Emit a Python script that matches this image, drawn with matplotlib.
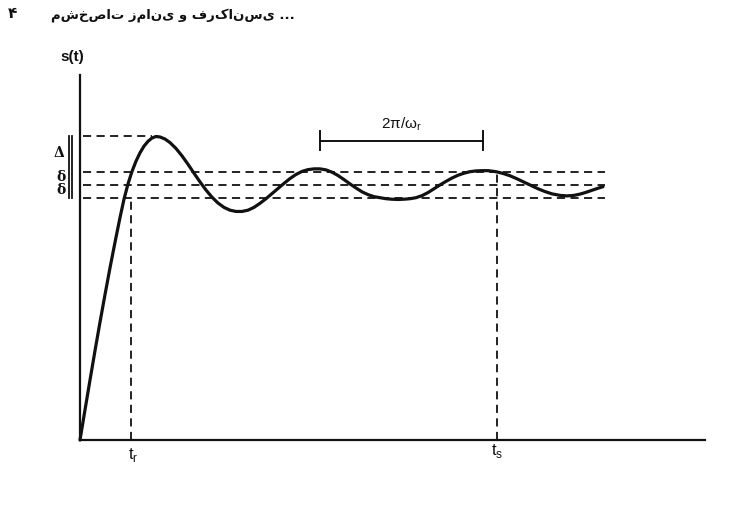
import matplotlib
matplotlib.use("Agg")
import matplotlib.pyplot as plt

plt.rcParams["font.family"] = ["Liberation Sans", "DejaVu Sans"]
plt.rcParams["mathtext.fontset"] = "custom"
plt.rcParams["mathtext.rm"] = "Liberation Sans"

# ---- data (t in arbitrary time units, s normalised to final value 1) ----
t = [0.00, 0.05, 0.10, 0.15, 0.20, 0.25, 0.30, 0.35, 0.40, 0.44, 0.48, 0.52, 0.56, 0.60,
     0.64, 0.68, 0.72, 0.76, 0.80, 0.85, 0.90, 0.96, 1.02, 1.08, 1.14, 1.20, 1.26, 1.32,
     1.38, 1.44, 1.50, 1.56, 1.62, 1.68, 1.74, 1.80, 1.86, 1.92, 1.98, 2.04, 2.10, 2.16,
     2.22, 2.28, 2.34, 2.40, 2.46, 2.52, 2.58, 2.64, 2.70, 2.76, 2.82, 2.88, 2.94, 3.00,
     3.06, 3.12, 3.18, 3.24, 3.30, 3.36, 3.42, 3.48, 3.54, 3.60, 3.66, 3.72, 3.78, 3.84,
     3.90, 3.96, 4.02, 4.08, 4.14, 4.17, 4.23, 4.30, 4.37, 4.44, 4.51, 4.58, 4.65, 4.72,
     4.80, 4.87, 4.94, 5.00, 5.06, 5.12, 5.18, 5.23]
s = [0.000, 0.118, 0.235, 0.350, 0.462, 0.570, 0.675, 0.775, 0.872, 0.944, 1.004, 1.053,
     1.093, 1.126, 1.152, 1.171, 1.184, 1.190, 1.188, 1.180, 1.166, 1.143, 1.114, 1.081,
     1.046, 1.012, 0.980, 0.952, 0.929, 0.912, 0.901, 0.896, 0.896, 0.901, 0.912, 0.928,
     0.946, 0.966, 0.986, 1.006, 1.025, 1.041, 1.053, 1.060, 1.063, 1.063, 1.059, 1.050,
     1.037, 1.021, 1.004, 0.988, 0.973, 0.962, 0.954, 0.950, 0.946, 0.944, 0.943, 0.944,
     0.946, 0.950, 0.958, 0.970, 0.985, 1.000, 1.014, 1.027, 1.038, 1.046, 1.052, 1.055,
     1.056, 1.056, 1.053, 1.051, 1.045, 1.036, 1.024, 1.011, 0.998, 0.985, 0.974, 0.965,
     0.959, 0.957, 0.959, 0.964, 0.971, 0.979, 0.987, 0.993]

final_value = 1.0
delta = 0.05          # settling band half-width
overshoot = 1.19      # Delta level (peak)
t_r = 0.51
t_s = 4.17
period_start = 2.40
period_end = 4.03

header = "مشخصات زمانی و فرکانسی ..."
page_no = "۴"

# ---- figure ----
fig = plt.figure(figsize=(7.36, 5.14), dpi=100)
ax = fig.add_axes([80 / 736, 1 - 440 / 514, 625 / 736, 365 / 514])
ax.set_xlim(0, 6.25)
ax.set_ylim(0, 1.431)
ax.axis("off")

ink = "#111111"
dash = dict(color=ink, lw=1.3, ls=(0, (4.5, 3.0)))

# axes
ax.plot([0, 0], [0, 1.431], color=ink, lw=1.6, clip_on=False)
ax.plot([0, 6.25], [0, 0], color=ink, lw=1.6, clip_on=False)

# level lines
ax.plot([0.03, 0.72], [overshoot, overshoot], **dash)
for lvl in (final_value + delta, final_value, final_value - delta):
    ax.plot([0.03, 5.25], [lvl, lvl], **dash)

# vertical dashed markers
ax.plot([t_r, t_r], [0, final_value - delta], **dash)
ax.plot([t_s, t_s], [0, final_value + delta], **dash)

# response curve
ax.plot(t, s, color=ink, lw=2.3, solid_capstyle="round", solid_joinstyle="round",
        clip_on=False)

# left bracket bars and labels
for xb in (-0.11, -0.08):
    ax.plot([xb, xb], [final_value - delta, overshoot], color=ink, lw=1.3, clip_on=False)
greek = dict(ha="center", va="center", fontsize=10, fontweight="bold", color=ink,
             clip_on=False, family=["DejaVu Serif"])
ax.text(-0.21, 1.125, "Δ", **greek)
ax.text(-0.19, 1.031, "δ", **greek)
ax.text(-0.19, 0.98, "δ", **greek)

# period bar
yb = 1.173
ax.plot([period_start, period_end], [yb, yb], color=ink, lw=1.4, clip_on=False)
for xe in (period_start, period_end):
    ax.plot([xe, xe], [yb - 0.035, yb + 0.04], color=ink, lw=1.4, clip_on=False)
ax.text((period_start + period_end) / 2, 1.238, "2π/ω$_\\mathregular{r}$", ha="center",
        va="center", fontsize=11, color=ink, clip_on=False)

# axis labels
ax.text(-0.08, 1.502, "s(t)", ha="center", va="center", fontsize=11, color=ink,
        fontweight="bold", clip_on=False)
ax.text(t_r + 0.02, -0.06, "t$_\\mathregular{r}$", ha="center", va="center", fontsize=12,
        color=ink, clip_on=False)
ax.text(t_s, -0.045, "t$_\\mathregular{s}$", ha="center", va="center", fontsize=12,
        color=ink, clip_on=False)

# header
fig.text(295 / 736, 1 - 15 / 514, header, ha="right", va="center", fontsize=9.5,
         fontweight="bold", color=ink, family=["DejaVu Sans"])
fig.text(12 / 736, 1 - 13 / 514, page_no, ha="center", va="center", fontsize=11,
         fontweight="bold", color=ink, family=["DejaVu Sans"])

fig.savefig("out.png", dpi=100, facecolor="white")
